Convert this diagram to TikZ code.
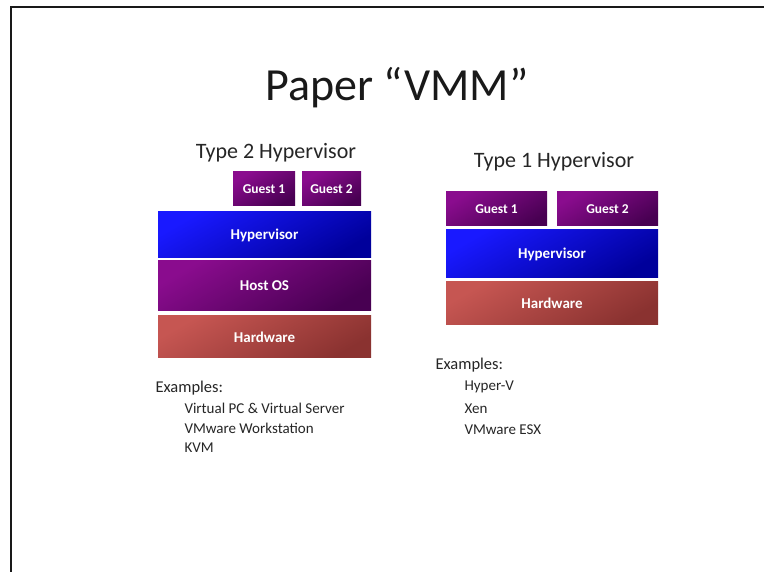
\documentclass[tikz,border=0pt]{standalone}
\usepackage{fontspec}
\setmainfont{Carlito}
\definecolor{purpHi}{RGB}{138,12,142}
\definecolor{purpMid}{RGB}{118,4,124}
\definecolor{purpLo}{RGB}{72,0,82}
\definecolor{blueHi}{RGB}{25,25,255}
\definecolor{blueMid}{RGB}{0,0,240}
\definecolor{blueLo}{RGB}{0,0,155}
\definecolor{redHi}{RGB}{198,86,82}
\definecolor{redMid}{RGB}{185,76,73}
\definecolor{redLo}{RGB}{138,50,48}
\begin{document}
\begin{tikzpicture}[x=1pt,y=1pt,
  lbl/.style={font=\bfseries\fontsize{15}{18}\selectfont, text=white},
  glbl/.style={font=\bfseries\fontsize{13.5}{16}\selectfont, text=white},
  heading/.style={font=\fontsize{22}{26}\selectfont, text=black!85},
  exhead/.style={font=\fontsize{16.5}{20}\selectfont, anchor=west, text=black!85},
  exitem/.style={font=\fontsize{15}{18}\selectfont, anchor=west, text=black!85},
  purplebox/.style={top color=purpHi, middle color=purpMid, bottom color=purpLo, shading angle=30},
  bluebox/.style={top color=blueHi, middle color=blueMid, bottom color=blueLo, shading angle=30},
  redbox/.style={top color=redHi, middle color=redMid, bottom color=redLo, shading angle=30}
]
% y grows downwards in this drawing: all y values are negative
\useasboundingbox (0,0) rectangle (764,-572);
\fill[white] (0,0) rectangle (764,-572);

% slide frame (top and left edges)
\draw[line width=2pt, black!90] (10.5,-572) -- (10.5,-7) -- (764,-7);

% title
\node[font=\fontsize{46}{52}\selectfont, text=black!90] (title) at (397,-88) {Paper “VMM”};

% ---- Type 2 ----
\node[heading] (t2head) at (276,-153) {Type 2 Hypervisor};
\shade[purplebox] (233,-172) rectangle (295,-206);
\node[glbl] (t2g1) at (264,-189) {Guest 1};
\shade[purplebox] (302,-172) rectangle (361,-206);
\node[glbl] (t2g2) at (331.5,-189) {Guest 2};
\shade[bluebox] (158,-212) rectangle (371,-258);
\node[lbl] (t2hyp) at (264.5,-235) {Hypervisor};
\shade[purplebox] (158,-261) rectangle (371,-311);
\node[lbl] (t2host) at (264.5,-286) {Host OS};
\shade[redbox] (158,-316) rectangle (371,-358);
\node[lbl] (t2hw) at (264.5,-337) {Hardware};

\node[exhead] (t2ex) at (152,-388) {Examples:};
\node[exitem] (t2e1) at (181,-408) {Virtual PC \& Virtual Server};
\node[exitem] (t2e2) at (181,-428) {VMware Workstation};
\node[exitem] (t2e3) at (181,-448) {KVM};

% ---- Type 1 ----
\node[heading] (t1head) at (554,-162) {Type 1 Hypervisor};
\shade[purplebox] (446,-192) rectangle (547,-226);
\node[glbl] (t1g1) at (496.5,-209) {Guest 1};
\shade[purplebox] (557,-192) rectangle (658,-226);
\node[glbl] (t1g2) at (607.5,-209) {Guest 2};
\shade[bluebox] (446,-230) rectangle (658,-278);
\node[lbl] (t1hyp) at (552,-254) {Hypervisor};
\shade[redbox] (446,-282) rectangle (658,-325);
\node[lbl] (t1hw) at (552,-303.5) {Hardware};

\node[exhead] (t1ex) at (432,-365) {Examples:};
\node[exitem] (t1e1) at (461,-387) {Hyper-V};
\node[exitem] (t1e2) at (461,-409) {Xen};
\node[exitem] (t1e3) at (461,-430) {VMware ESX};
\end{tikzpicture}
\end{document}
